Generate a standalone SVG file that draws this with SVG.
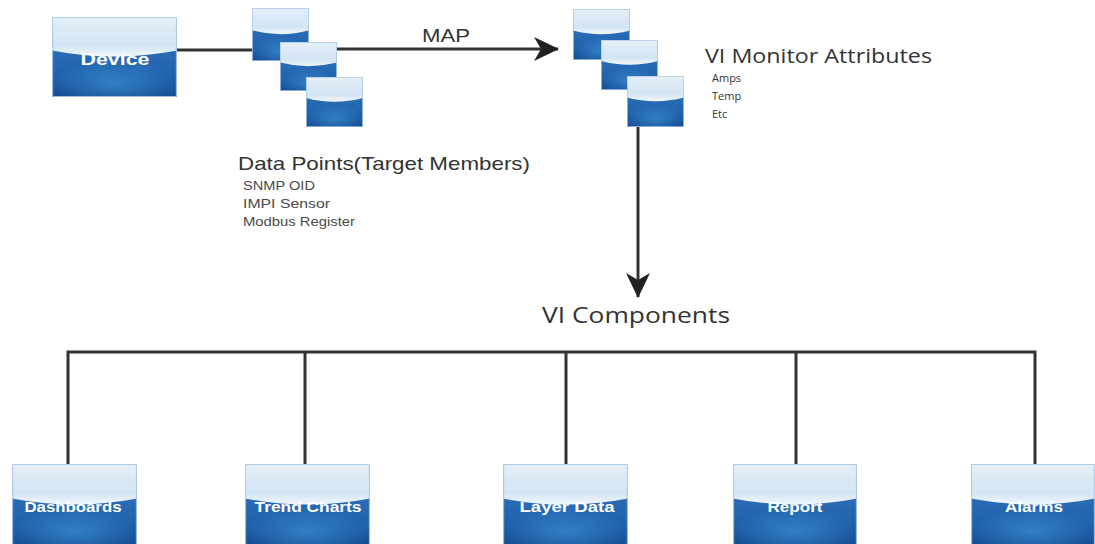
<svg xmlns="http://www.w3.org/2000/svg" width="1095" height="544" viewBox="0 0 1095 544">
<defs>
  <linearGradient id="gLight" x1="0" y1="0" x2="0" y2="1">
    <stop offset="0" stop-color="#e6eff8"/>
    <stop offset="0.35" stop-color="#d2e4f3"/>
    <stop offset="0.5" stop-color="#f2f8fd"/>
    <stop offset="1" stop-color="#ffffff"/>
  </linearGradient>
  <linearGradient id="gDark" x1="0" y1="0" x2="0" y2="1">
    <stop offset="0" stop-color="#2a6cb4"/>
    <stop offset="0.5" stop-color="#2063ad"/>
    <stop offset="1" stop-color="#174d92"/>
  </linearGradient>
  <radialGradient id="gGlow" cx="0.5" cy="0.7" r="0.5">
    <stop offset="0" stop-color="#3b8fd3" stop-opacity="0.7"/>
    <stop offset="1" stop-color="#3b8fd3" stop-opacity="0"/>
  </radialGradient>
  <symbol id="box" viewBox="0 0 100 100" preserveAspectRatio="none">
    <rect x="0" y="0" width="100" height="100" fill="url(#gLight)"/>
    <path d="M0 42 Q50 57 100 42 L100 100 L0 100 Z" fill="url(#gDark)"/>
    <path d="M0 42 Q50 57 100 42 L100 100 L0 100 Z" fill="url(#gGlow)"/>
    <rect x="0.5" y="0.5" width="99" height="99" fill="none" stroke="#a9c9e6" stroke-width="1" vector-effect="non-scaling-stroke"/>
  </symbol>
  <marker id="arrow" viewBox="0 0 26 26" refX="24" refY="13" markerWidth="26" markerHeight="26" markerUnits="userSpaceOnUse" orient="auto">
    <path d="M0 1 L25 13 L0 25 L7 13 Z" fill="#222"/>
  </marker>
</defs>
<style>
  .ln { stroke:#333; stroke-width:3; fill:none; }
  .bt { font-family:"Liberation Sans", Arial, sans-serif; font-weight:bold; fill:#ffffff; text-anchor:middle; }
  .lbl { font-family:"Liberation Sans", Arial, sans-serif; fill:#333333; }
  .sub { font-family:"Liberation Sans", Arial, sans-serif; fill:#4a4a4a; }
  .os { font-family:"Open Sans", "Noto Sans", sans-serif; fill:#333333; }
</style>

<g id="connectors">
  <line class="ln" x1="177" y1="50" x2="252" y2="50"/>
  <line class="ln" x1="337" y1="49" x2="558" y2="49" marker-end="url(#arrow)"/>
  <line class="ln" x1="638" y1="127" x2="638" y2="297" marker-end="url(#arrow)"/>
  <polyline class="ln" points="68,464 68,352 1035,352 1035,464"/>
  <line class="ln" x1="305" y1="352" x2="305" y2="464"/>
  <line class="ln" x1="566" y1="352" x2="566" y2="464"/>
  <line class="ln" x1="796" y1="352" x2="796" y2="464"/>
</g>

<g id="device">
  <use href="#box" x="52" y="17" width="125" height="80"/>
  <text class="bt" x="115" y="65" font-size="16" textLength="69" lengthAdjust="spacingAndGlyphs">Device</text>
</g>

<g id="data-points">
  <use href="#box" x="252" y="8" width="57" height="53"/>
  <use href="#box" x="280" y="42" width="57" height="49"/>
  <use href="#box" x="306" y="77" width="57" height="50"/>
  <text class="lbl" x="238" y="170" font-size="19" textLength="292" lengthAdjust="spacingAndGlyphs">Data Points(Target Members)</text>
  <text class="sub" x="243" y="190" font-size="13" textLength="72" lengthAdjust="spacingAndGlyphs">SNMP OID</text>
  <text class="sub" x="243" y="208" font-size="13" textLength="87" lengthAdjust="spacingAndGlyphs">IMPI Sensor</text>
  <text class="sub" x="243" y="226" font-size="13" textLength="112" lengthAdjust="spacingAndGlyphs">Modbus Register</text>
</g>

<g id="map-label">
  <text class="lbl" x="422" y="42" font-size="18" textLength="48" lengthAdjust="spacingAndGlyphs">MAP</text>
</g>

<g id="vi-monitor-attributes">
  <use href="#box" x="573" y="9" width="57" height="51"/>
  <use href="#box" x="601" y="40" width="57" height="50"/>
  <use href="#box" x="627" y="76" width="57" height="51"/>
  <text class="os" x="705" y="63" font-size="20" textLength="227" lengthAdjust="spacingAndGlyphs">VI Monitor Attributes</text>
  <text class="os" x="712" y="82" font-size="11" fill="#666">Amps</text>
  <text class="os" x="712" y="100" font-size="11" fill="#666">Temp</text>
  <text class="os" x="712" y="118" font-size="11" fill="#666">Etc</text>
</g>

<g id="vi-components">
  <text class="os" x="542" y="323" font-size="22" textLength="188" lengthAdjust="spacingAndGlyphs">VI Components</text>
</g>

<g id="dashboards">
  <use href="#box" x="12" y="464" width="125" height="82"/>
  <text class="bt" x="73" y="512" font-size="14" textLength="97" lengthAdjust="spacingAndGlyphs">Dashboards</text>
</g>
<g id="trend-charts">
  <use href="#box" x="245" y="464" width="125" height="82"/>
  <text class="bt" x="308" y="512" font-size="14" textLength="107" lengthAdjust="spacingAndGlyphs">Trend  Charts</text>
</g>
<g id="layer-data">
  <use href="#box" x="503" y="464" width="125" height="82"/>
  <text class="bt" x="567" y="512" font-size="14" textLength="95" lengthAdjust="spacingAndGlyphs">Layer  Data</text>
</g>
<g id="report">
  <use href="#box" x="733" y="464" width="124" height="82"/>
  <text class="bt" x="795" y="512" font-size="14" textLength="55" lengthAdjust="spacingAndGlyphs">Report</text>
</g>
<g id="alarms">
  <use href="#box" x="971" y="464" width="124" height="82"/>
  <text class="bt" x="1034" y="512" font-size="14" textLength="58" lengthAdjust="spacingAndGlyphs">Alarms</text>
</g>
</svg>
